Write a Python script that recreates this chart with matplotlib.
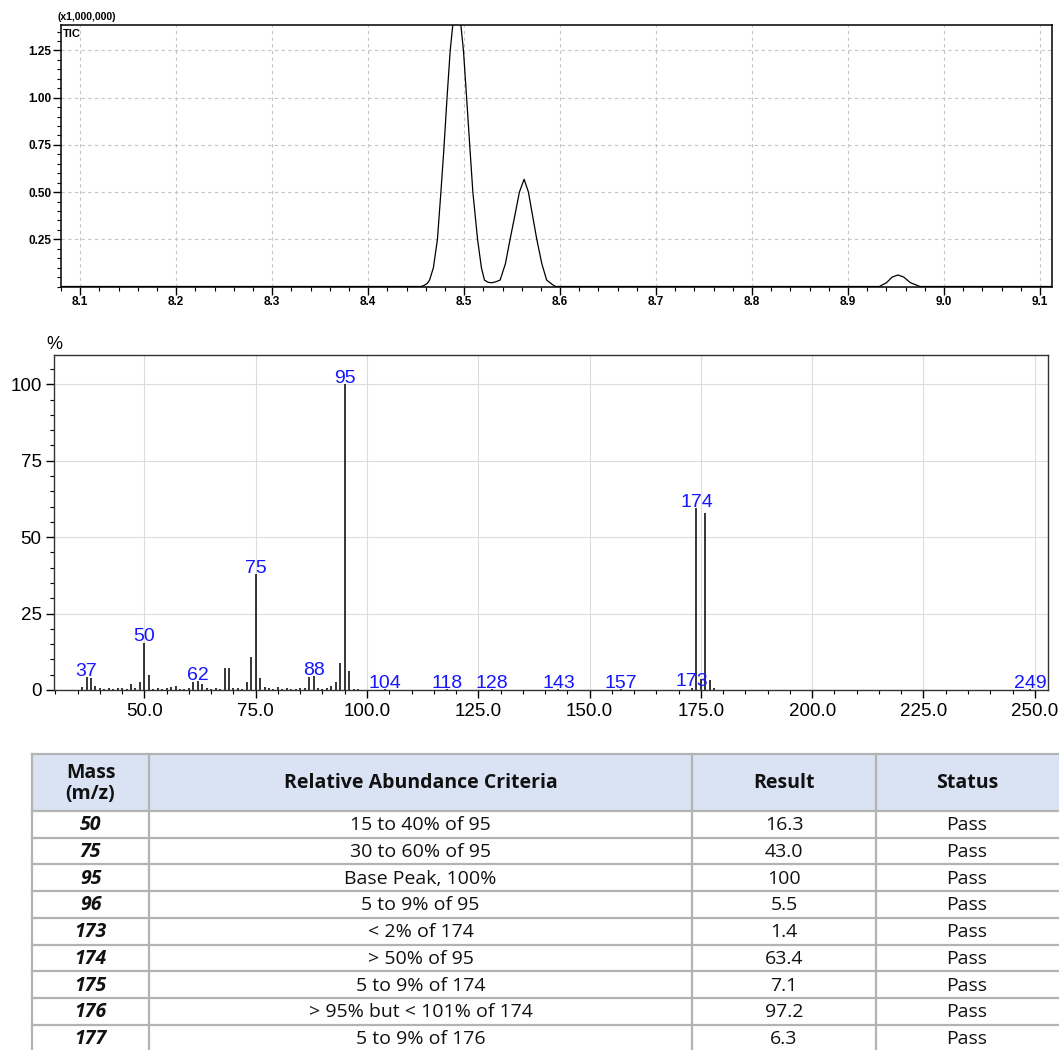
import matplotlib
matplotlib.use("Agg")
import matplotlib.pyplot as plt
from matplotlib.ticker import MultipleLocator, FixedLocator, FuncFormatter
from matplotlib.patches import Rectangle

# TIC trace (min, intensity x1,000,000)
tic_time = [8.080, 8.455, 8.4580, 8.4615, 8.4640, 8.4680, 8.4722, 8.4758, 8.4788, 8.4822,
            8.4855, 8.4885, 8.4924, 8.4963, 8.4993, 8.5026, 8.5062, 8.5091, 8.5140, 8.5180,
            8.5212, 8.5250, 8.5290, 8.5330, 8.5375, 8.5430, 8.5479, 8.5530, 8.5576, 8.5625,
            8.5670, 8.5715, 8.5757, 8.5810, 8.5860, 8.5920, 8.5955, 8.9326, 8.940, 8.946,
            8.952, 8.958, 8.965, 8.975, 9.1125]
tic_int = [0.0, 0.0, 0.005, 0.016, 0.034, 0.10, 0.25, 0.50, 0.72, 1.00,
           1.25, 1.40, 1.51, 1.40, 1.25, 1.00, 0.72, 0.50, 0.25, 0.10,
           0.034, 0.022, 0.02, 0.025, 0.034, 0.12, 0.25, 0.38, 0.50, 0.568,
           0.50, 0.37, 0.25, 0.12, 0.034, 0.01, 0.0, 0.0, 0.02, 0.05,
           0.061, 0.05, 0.02, 0.0, 0.0]

# mass spectrum (m/z, relative abundance %)
mz = [36, 37, 38, 39, 40, 41, 42, 43, 44, 45, 46, 47, 48, 49, 50, 51, 52, 53, 54, 55,
      56, 57, 58, 59, 60, 61, 62, 63, 64, 65, 66, 67, 68, 69, 70, 71, 72, 73, 74, 75,
      76, 77, 78, 79, 80, 81, 82, 83, 84, 85, 86, 87, 88, 89, 90, 91, 92, 93, 94, 95,
      96, 97, 98, 104, 118, 128, 143, 157, 173, 174, 175, 176, 177, 178, 249]
abund = [1.1, 4.1, 3.8, 1.4, 0.5, 0.4, 0.5, 0.4, 0.6, 0.5, 0.4, 2.1, 0.8, 2.7, 15.5, 4.9, 0.4, 0.5, 0.4, 0.6,
         0.9, 1.4, 0.4, 0.3, 0.6, 2.7, 2.9, 1.8, 0.5, 0.4, 0.5, 0.4, 7.1, 7.3, 0.5, 0.6, 0.4, 2.7, 10.8, 37.8,
         3.8, 0.9, 0.6, 0.4, 0.9, 0.4, 0.5, 0.3, 0.4, 0.5, 0.6, 4.3, 4.6, 0.5, 0.4, 0.6, 1.4, 2.7, 8.7, 100.0,
         6.2, 0.4, 0.3, 0.3, 0.3, 0.3, 0.3, 0.3, 0.8, 59.5, 3.5, 57.8, 3.4, 0.5, 0.3]
peak_labels = [37, 50, 62, 75, 88, 95, 104, 118, 128, 143, 157, 173, 174, 249]

# tune check table
col_mass = ["50", "75", "95", "96", "173", "174", "175", "176", "177"]
col_criteria = ["15 to 40% of 95", "30 to 60% of 95", "Base Peak, 100%", "5 to 9% of 95",
                "< 2% of 174", "> 50% of 95", "5 to 9% of 174", "> 95% but < 101% of 174",
                "5 to 9% of 176"]
col_result = ["16.3", "43.0", "100", "5.5", "1.4", "63.4", "7.1", "97.2", "6.3"]
col_status = ["Pass"] * 9
headers = ["Mass\n(m/z)", "Relative Abundance Criteria", "Result", "Status"]

W, H = 1059, 1050
fig = plt.figure(figsize=(W / 100, H / 100), dpi=100)
narrow = ["Liberation Sans", "DejaVu Sans"]

# ---------------- chromatogram ----------------
ax1 = fig.add_axes([61 / W, 1 - 286.5 / H, 991 / W, 261.5 / H])
ax1.plot(tic_time, tic_int, color="black", lw=0.9)
ax1.set_xlim(8.080, 9.1125)
ax1.set_ylim(0, 1.385)
ax1.xaxis.set_major_locator(FixedLocator([8.1 + 0.1 * i for i in range(11)]))
ax1.xaxis.set_minor_locator(MultipleLocator(0.02))
ax1.yaxis.set_major_locator(FixedLocator([0.25, 0.5, 0.75, 1.0, 1.25]))
ax1.yaxis.set_minor_locator(MultipleLocator(0.05))
ax1.xaxis.set_major_formatter(FuncFormatter(lambda v, p: f"{v:.1f}"))
ax1.yaxis.set_major_formatter(FuncFormatter(lambda v, p: f"{v:.2f}"))
ax1.grid(True, which="major", color="#c4c4c4", ls=(0, (3, 3)), lw=0.8)
ax1.tick_params(which="major", direction="out", length=6, width=1, pad=1, labelsize=8.5)
ax1.tick_params(which="minor", direction="out", length=3, width=0.8)
for lab in ax1.get_xticklabels() + ax1.get_yticklabels():
    lab.set_family(narrow)
    lab.set_fontweight("bold")
for s in ax1.spines.values():
    s.set_linewidth(1.1)
fig.text(57 / W, 1 - 17 / H, "(x1,000,000)", family=narrow, weight="bold", fontsize=7.5,
         ha="left", va="center")
ax1.text(0.002, 0.985, "TIC", transform=ax1.transAxes, family=narrow, weight="bold",
         fontsize=8, ha="left", va="top")

# ---------------- mass spectrum ----------------
ax2 = fig.add_axes([54 / W, 1 - 690 / H, 993.7 / W, 335 / H])
ax2.vlines(mz, 0, abund, color="black", lw=1.1)
ax2.set_xlim(29.7, 252.9)
ax2.set_ylim(0, 109.6)
ax2.xaxis.set_major_locator(FixedLocator([50, 75, 100, 125, 150, 175, 200, 225, 250]))
ax2.xaxis.set_minor_locator(MultipleLocator(5))
ax2.yaxis.set_major_locator(FixedLocator([0, 25, 50, 75, 100]))
ax2.yaxis.set_minor_locator(MultipleLocator(5))
ax2.xaxis.set_major_formatter(FuncFormatter(lambda v, p: f"{v:.1f}"))
ax2.yaxis.set_major_formatter(FuncFormatter(lambda v, p: f"{v:.0f}"))
ax2.grid(True, which="major", color="#dcdcdc", lw=0.8)
ax2.set_axisbelow(True)
ax2.tick_params(which="major", direction="out", length=6, width=1, pad=3, labelsize=13.5)
ax2.tick_params(which="minor", direction="out", length=3, width=0.8)
for lab in ax2.get_xticklabels() + ax2.get_yticklabels():
    lab.set_family("Liberation Sans")
for s in ax2.spines.values():
    s.set_linewidth(1.0)
    s.set_color("#333333")
for m in peak_labels:
    h = abund[mz.index(m)]
    ax2.annotate(str(m), (m, h), xytext=(0, 1), textcoords="offset points",
                 ha="center", va="baseline", color="#1515ff", fontsize=14,
                 family="Liberation Sans")
fig.text(54 / W, 1 - 345 / H, "%", family="Liberation Sans", fontsize=13,
         ha="center", va="center")

# ---------------- table ----------------
ax3 = fig.add_axes([0, 0, 1, 310 / H])
ax3.set_xlim(0, W)
ax3.set_ylim(H, 740)
ax3.axis("off")
xs = [32, 149, 692, 876, 1058]
head_top, head_bot, row_h = 753.5, 811, 26.7
border = "#b3b3b3"
ax3.add_patch(Rectangle((xs[0], head_top), W + 5 - xs[0], head_bot - head_top,
                        facecolor="#dae3f3", edgecolor="none"))
n = len(col_mass)
ys = [head_top, head_bot] + [head_bot + row_h * (i + 1) for i in range(n)]
for y in ys:
    ax3.plot([xs[0], W + 5], [y, y], color=border, lw=1.6)
for x in xs[:-1]:
    ax3.plot([x, x], [head_top, ys[-1]], color=border, lw=1.6)
for j, txt in enumerate(headers):
    ax3.text((xs[j] + xs[j + 1]) / 2, (head_top + head_bot) / 2 + 1, txt, ha="center",
             va="center", fontsize=14, weight="bold", family="Open Sans",
             linespacing=1.1, color="#111111")
cols = [col_mass, col_criteria, col_result, col_status]
for i in range(n):
    yc = head_bot + row_h * (i + 0.5) + 1
    for j, col in enumerate(cols):
        kw = dict(weight="bold", style="italic") if j == 0 else {}
        ax3.text((xs[j] + xs[j + 1]) / 2, yc, col[i], ha="center", va="center",
                 fontsize=14, family="Open Sans", color="#111111", **kw)

fig.savefig("out.png", dpi=100)
